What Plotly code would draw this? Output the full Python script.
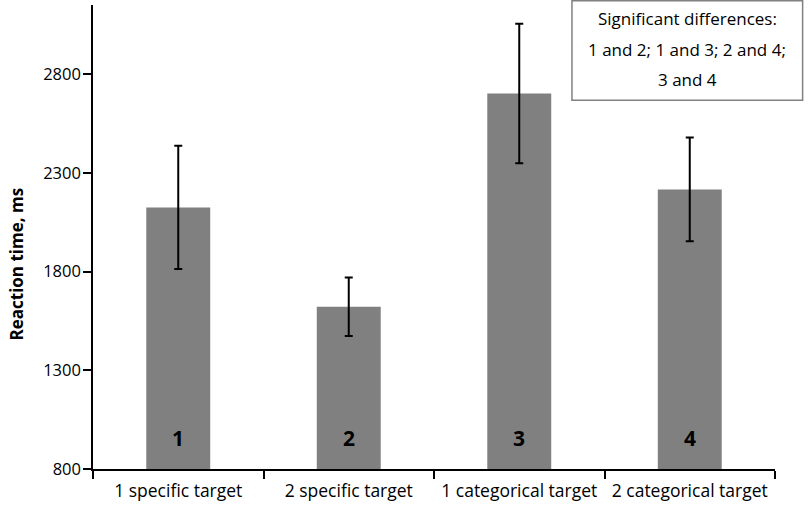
import plotly.graph_objects as go

categories = ["1 specific target", "2 specific target", "1 categorical target", "2 categorical target"]
bar_labels = ["1", "2", "3", "4"]
means = [2125, 1622, 2702, 2216]
errors = [312, 148, 353, 263]
y_ticks = [800, 1300, 1800, 2300, 2800]
box_lines = ["Significant differences:", "1 and 2; 1 and 3; 2 and 4;", "3 and 4"]
y_title = "Reaction time, ms"

FONT = "Open Sans"

fig = go.Figure()
fig.add_trace(go.Bar(
    x=categories, y=[m - 800 for m in means], base=800,
    width=0.375,
    marker=dict(color="#808080", line=dict(width=0)),
    error_y=dict(type="data", array=errors, visible=True, color="black", thickness=2, width=4),
))

annotations = []
for cat, lab in zip(categories, bar_labels):
    annotations.append(dict(x=cat, y=955, xref="x", yref="y", text="<b>%s</b>" % lab,
                            showarrow=False, font=dict(family=FONT, size=21, color="black")))

box_y = [0.970, 0.9045, 0.840]
for t, yy in zip(box_lines, box_y):
    annotations.append(dict(x=0.8717, y=yy, xref="paper", yref="paper", text=t, showarrow=False,
                            xanchor="center", yanchor="middle",
                            font=dict(family=FONT, size=17, color="black")))

annotations.append(dict(x=-0.112, y=0.442, xref="paper", yref="paper", text="<b>%s</b>" % y_title,
                        textangle=-90, showarrow=False, xanchor="center", yanchor="middle",
                        font=dict(family=FONT, size=17, color="black")))

fig.update_layout(
    width=810, height=507,
    margin=dict(l=93, r=35, t=5, b=36),
    plot_bgcolor="white", paper_bgcolor="white",
    showlegend=False,
    font=dict(family=FONT, size=16, color="black"),
    annotations=annotations,
    shapes=[dict(type="rect", xref="paper", yref="paper", x0=0.7023, x1=1.0405, y0=0.7946, y1=1.009,
                 line=dict(color="#808080", width=1.5), fillcolor="white", layer="above")],
    xaxis=dict(type="category", showline=True, linecolor="black", linewidth=1.5,
               ticks="outside", tickson="boundaries", ticklen=8, tickcolor="black", tickwidth=1.5,
               showgrid=False, tickfont=dict(family=FONT, size=17.5), range=[-0.5, 3.5],
               ticklabelstandoff=5),
    yaxis=dict(range=[800, 3150], tickvals=y_ticks, showline=True, linecolor="black", linewidth=1.5,
               ticks="outside", ticklen=8, tickcolor="black", tickwidth=1.5, showgrid=False, zeroline=False,
               ticklabelstandoff=-1,
               tickfont=dict(family=FONT, size=16.5)),
)

fig.write_html("out.html", config={"displayModeBar": False},
               post_script="document.body.style.margin='0';document.body.style.padding='0';")
